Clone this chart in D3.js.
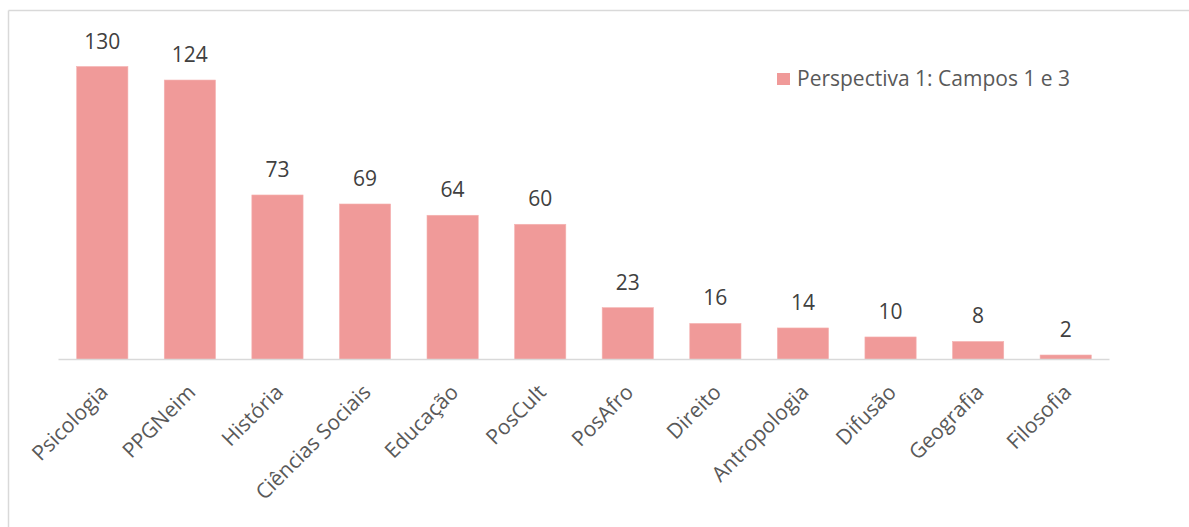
<!DOCTYPE html>
<html>
<head>
<meta charset="utf-8">
<script src="https://cdn.jsdelivr.net/npm/d3@7"></script>
<style>
  html, body { margin: 0; padding: 0; background: #fff; }
  svg { display: block; }
  text { font-family: "Open Sans", "Noto Sans", sans-serif; }
</style>
</head>
<body>
<svg id="chart" width="1189" height="527"></svg>
<script>
// Programas e número de trabalhos
const categories = ["Psicologia", "PPGNeim", "História", "Ciências Sociais", "Educação",
  "PosCult", "PosAfro", "Direito", "Antropologia", "Difusão", "Geografia", "Filosofia"];
const values = [130, 124, 73, 69, 64, 60, 23, 16, 14, 10, 8, 2];
const seriesName = "Perspectiva 1: Campos 1 e 3";

const svg = d3.select("#chart");
const W = 1189, H = 527;
const barColor = "#F09A99";

// frame (top and left edges)
svg.append("line").attr("x1", 8.5).attr("x2", W).attr("y1", 10.5).attr("y2", 10.5)
  .attr("stroke", "#d9d9d9").attr("stroke-width", 1.5);
svg.append("line").attr("x1", 8.5).attr("x2", 8.5).attr("y1", 10.5).attr("y2", H)
  .attr("stroke", "#d9d9d9").attr("stroke-width", 1.5);

const plot = { left: 58.5, right: 1109.5, top: 66.5, bottom: 359.5 };

const x = d3.scaleBand().domain(categories).range([plot.left, plot.right]).paddingInner(0.415).paddingOuter(0.2075);
const y = d3.scaleLinear().domain([0, 130]).range([plot.bottom, plot.top]);

// bars
svg.append("g").selectAll("rect").data(values).join("rect")
  .attr("x", (d, i) => x(categories[i]))
  .attr("y", d => y(d))
  .attr("width", x.bandwidth())
  .attr("height", d => y(0) - y(d))
  .attr("fill", barColor)
  .attr("stroke", "#F5B3B2").attr("stroke-width", 0.6);

// baseline axis
const axis = svg.append("g").attr("transform", `translate(0,${plot.bottom})`)
  .call(d3.axisBottom(x).tickSize(0).tickPadding(0));
axis.select(".domain").attr("stroke", "#d9d9d9").attr("stroke-width", 1.5)
  .attr("d", `M${plot.left},0H${plot.right}`);
axis.selectAll(".tick text")
  .attr("font-size", 21)
  .attr("fill", "#595959")
  .attr("text-anchor", "end")
  .attr("dy", null)
  .attr("transform", "translate(7,34) rotate(-45)");

// value labels
svg.append("g").selectAll("text").data(values).join("text")
  .attr("x", (d, i) => x(categories[i]) + x.bandwidth() / 2)
  .attr("y", d => y(d) - 18)
  .attr("text-anchor", "middle")
  .attr("font-size", 21)
  .attr("fill", "#404040")
  .text(d => d);

// legend
const lg = svg.append("g").attr("transform", "translate(777,73)");
lg.append("rect").attr("width", 13).attr("height", 12).attr("fill", barColor);
lg.append("text").attr("x", 20).attr("y", 13).attr("font-size", 21).attr("fill", "#595959").text(seriesName);
</script>
</body>
</html>
